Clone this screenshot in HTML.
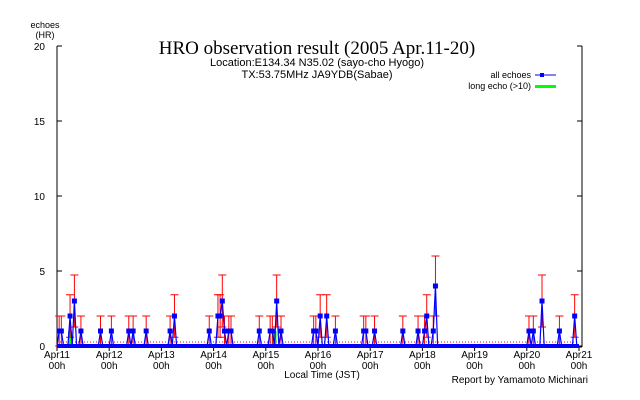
<!DOCTYPE html>
<html><head><meta charset="utf-8"><style>
body{margin:0;background:#fff;}
svg{display:block;font-family:"Liberation Sans",sans-serif;}
</style></head><body>
<svg id="c" width="640" height="400" viewBox="0 0 640 400">
<text x="317" y="54" font-family="Liberation Serif" font-size="19" text-anchor="middle">HRO observation result (2005 Apr.11-20)</text>
<text x="317" y="66" font-size="11" text-anchor="middle">Location:E134.34 N35.02 (sayo-cho Hyogo)</text>
<text x="317" y="78" font-size="11" text-anchor="middle">TX:53.75MHz JA9YDB(Sabae)</text>
<text x="45" y="28" font-size="9" text-anchor="middle">echoes</text>
<text x="45" y="38" font-size="9" text-anchor="middle">(HR)</text>
<g>
<text x="531" y="78" font-size="9" text-anchor="end">all echoes</text>
<line x1="535" y1="75" x2="556" y2="75" stroke="#00f" stroke-width="1"/>
<rect x="540" y="73" width="4" height="4" fill="#00f"/>
<text x="531" y="89" font-size="9" text-anchor="end">long echo (&gt;10)</text>
<rect x="535" y="85" width="21" height="3" fill="#0f0"/>
</g>
<text x="322" y="378" font-size="10" text-anchor="middle">Local Time (JST)</text>
<text x="588" y="383" font-size="10" text-anchor="end">Report by Yamamoto Michinari</text>
<g id="plot"></g>
</svg>
<script>
const dayLabels=["Apr11","Apr12","Apr13","Apr14","Apr15","Apr16","Apr17","Apr18","Apr19","Apr20","Apr21"];
const yTicks=[0,5,10,15,20];
const eventHours=[1,2,6,8,11,20,25,33,35,41,52,54,70,74,75,76,77,79,80,93,98,99,101,103,118,119,121,124,128,141,142,146,159,166,169,170,173,174,217,219,223,231,238];
const eventCounts=[1,1,2,3,1,1,1,1,1,1,1,2,1,2,2,3,1,1,1,1,1,1,3,1,1,1,2,2,1,1,1,1,1,1,1,2,1,4,1,1,3,1,2];
const longHours=[6,100];
const longCounts=[1,1];
const NS="http://www.w3.org/2000/svg";
const g=document.getElementById('plot');
const X0=57,X1=579,Y0=346,Y1=46;
const xs=h=>X0+(X1-X0)*h/240;
const ys=v=>Y0+(Y1-Y0)*v/20;
function mk(t,a){const e=document.createElementNS(NS,t);for(const k in a)e.setAttribute(k,a[k]);g.appendChild(e);return e;}
let e=mk('line',{x1:X0,y1:Y1,x2:X0,y2:Y0+1,stroke:'#000'});


e=mk('line',{x1:582,y1:Y1,x2:582,y2:Y0+1,stroke:'#000'});


e=mk('line',{x1:X0,y1:Y0+1,x2:582,y2:Y0+1,stroke:'#000'});


yTicks.forEach(v=>{
 let t=mk('line',{x1:X0,y1:ys(v),x2:X0+5,y2:ys(v),stroke:'#000'});
 
 
 t=mk('line',{x1:577,y1:ys(v),x2:582,y2:ys(v),stroke:'#000'});
 
 
 const l=mk('text',{x:X0-12,y:ys(v)+4,'font-size':10,'text-anchor':'end'});l.textContent=v;
 
 
});
dayLabels.forEach((d,i)=>{
 const x=xs(i*24);
 let t=mk('line',{x1:x,y1:Y0+1,x2:x,y2:Y0+5,stroke:'#000'});
 
 
 let l=mk('text',{x:x,y:Y0+12,'font-size':10,'text-anchor':'middle'});l.textContent=d;
 
 
 l=mk('text',{x:x,y:Y0+23,'font-size':10,'text-anchor':'middle'});l.textContent='00h';
 
 
});
const counts=new Array(241).fill(0);
eventHours.forEach((h,i)=>counts[h]=eventCounts[i]);
e=mk('line',{x1:X0,y1:ys(0)-4,x2:X1,y2:ys(0)-4,stroke:'#f00','stroke-dasharray':'1,2'});


longHours.forEach((h,i)=>{
 const r=mk('rect',{x:xs(h)-2,y:ys(longCounts[i]),width:4,height:ys(0)-ys(longCounts[i]),fill:'#0f0'});
 
 
});
eventHours.forEach((h,i)=>{
 const v=eventCounts[i],s=Math.sqrt(v),x=xs(h);
 const hi=ys(v+s),lo=ys(Math.max(0,v-s));
 const eb=mk('path',{d:`M${x},${lo}V${hi}M${x-4},${hi}H${x+4}M${x-4},${lo}H${x+4}`,stroke:'#f00',fill:'none'});
 
 
});
let d='';
counts.forEach((v,h)=>{d+=(h?'L':'M')+xs(h)+','+ys(v);});
e=mk('path',{d:d,stroke:'#00f','stroke-width':1.2,fill:'none'});


e=mk('line',{x1:X0,y1:ys(0),x2:X1,y2:ys(0),stroke:'#00f','stroke-width':4});


eventHours.forEach((h,i)=>{
 const p=mk('rect',{x:xs(h)-2.5,y:ys(eventCounts[i])-2.5,width:5,height:5,fill:'#00f'});
 
 
});
</script>
</body></html>
